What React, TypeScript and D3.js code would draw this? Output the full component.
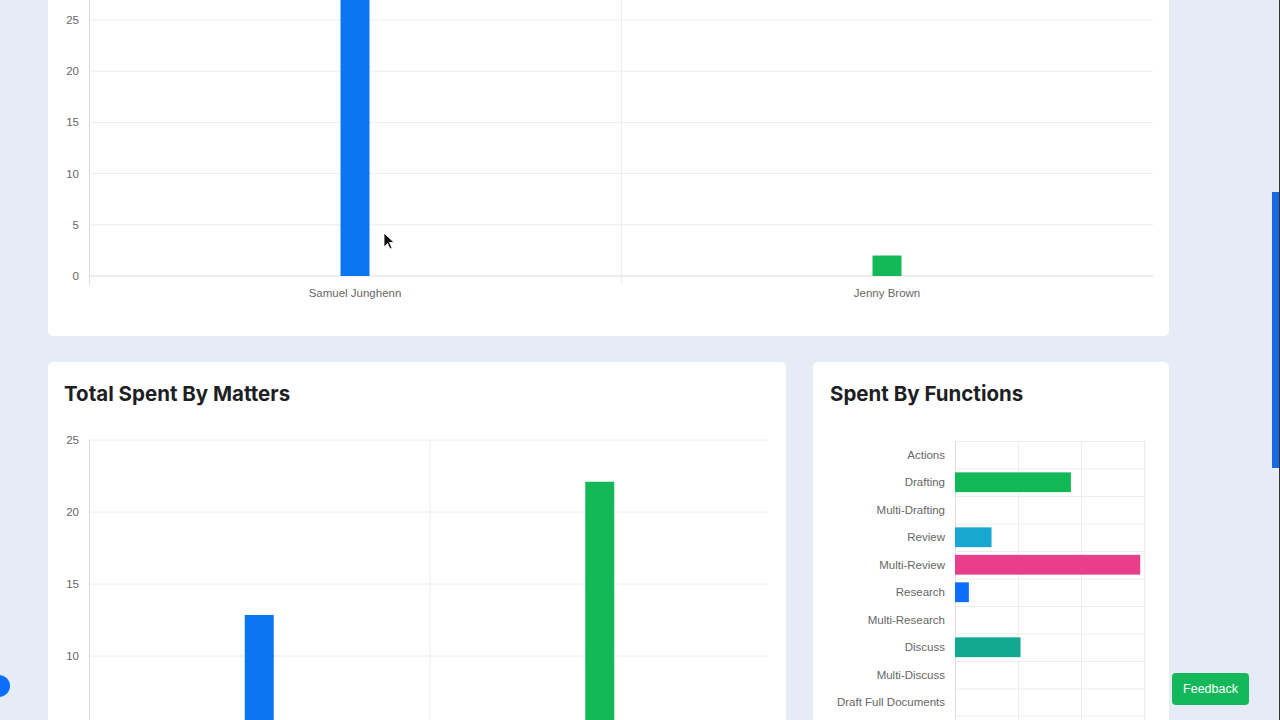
import React from "react";
import * as d3 from "d3";

// ---- Data ----
const people = ["Samuel Junghenn", "Jenny Brown"];
const peopleValues = [33, 2];
const peopleColors = ["#0b76ef", "#13b957"];
const peopleTicks = [0, 5, 10, 15, 20, 25];

const matters = ["Matter 1", "Matter 2"];
const matterValues = [12.85, 22.1];
const matterColors = ["#0b76ef", "#13b957"];
const matterTicks = [10, 15, 20, 25];

const functionsList = [
  "Actions",
  "Drafting",
  "Multi-Drafting",
  "Review",
  "Multi-Review",
  "Research",
  "Multi-Research",
  "Discuss",
  "Multi-Discuss",
  "Draft Full Documents",
];
const functionValues = [0, 9.2, 0, 2.9, 14.7, 1.1, 0, 5.2, 0, 0];
const functionColors = [
  "#6f42c1",
  "#13b957",
  "#fd7e14",
  "#17a7cf",
  "#e83e8c",
  "#0d6efd",
  "#6610f2",
  "#13a991",
  "#ffc107",
  "#dc3545",
];
const functionTicks = [0, 5, 10, 15];

const FONT = "'Liberation Sans', Arial, Helvetica, sans-serif";
const TITLE_FONT = "Inter, 'Open Sans', sans-serif";
const GRID = "#ececec";
const AXIS = "#dcdcdc";
const TICK_TEXT = "#666";

function TopChart() {
  const x = d3.scaleBand<string>().domain(people).range([89, 1153]);
  const y = d3.scaleLinear().domain([0, 25]).range([276, 20]);
  const barW = 29;
  const bounds = people.map((p) => x(p) as number);
  return (
    <g>
      {peopleTicks.map((t) => (
        <g key={t}>
          <line x1={89} x2={1153} y1={y(t)} y2={y(t)} stroke={t === 0 ? AXIS : GRID} strokeWidth={1} />
          <text x={79} y={y(t)} dy="0.35em" textAnchor="end" fontSize={11.5} fill={TICK_TEXT} fontFamily={FONT}>
            {t}
          </text>
        </g>
      ))}
      {bounds.map((b, i) => (
        <line key={i} x1={b + 0.5} x2={b + 0.5} y1={-10} y2={285} stroke={i === 0 ? AXIS : GRID} strokeWidth={1} />
      ))}
      {people.map((p, i) => {
        const cx = (x(p) as number) + x.bandwidth() / 2;
        return (
          <g key={p}>
            <rect x={cx - barW / 2} y={y(peopleValues[i])} width={barW} height={y(0) - y(peopleValues[i])} fill={peopleColors[i]} />
            <text x={cx} y={293} dy="0.35em" textAnchor="middle" fontSize={11.5} fill={TICK_TEXT} fontFamily={FONT}>
              {p}
            </text>
          </g>
        );
      })}
    </g>
  );
}

function MattersChart() {
  const x = d3.scaleBand<string>().domain(matters).range([89, 770]);
  const y = d3.scaleLinear().domain([0, 25]).range([800, 440]);
  const barW = 29;
  return (
    <g>
      <text x={64} y={394} dy="0.35em" fontSize={20.5} fontWeight={700} fill="#1d1f24" fontFamily={TITLE_FONT}>
        Total Spent By Matters
      </text>
      {matterTicks.map((t) => (
        <g key={t}>
          <line x1={89} x2={768} y1={y(t)} y2={y(t)} stroke={GRID} strokeWidth={1} />
          <text x={79} y={y(t)} dy="0.35em" textAnchor="end" fontSize={11.5} fill={TICK_TEXT} fontFamily={FONT}>
            {t}
          </text>
        </g>
      ))}
      {matters.map((m, i) => (
        <line key={i} x1={(x(m) as number) + 0.5} x2={(x(m) as number) + 0.5} y1={440} y2={808} stroke={i === 0 ? AXIS : GRID} strokeWidth={1} />
      ))}
      {matters.map((m, i) => {
        const cx = (x(m) as number) + x.bandwidth() / 2;
        return (
          <rect key={m} x={cx - barW / 2} y={y(matterValues[i])} width={barW} height={y(0) - y(matterValues[i])} fill={matterColors[i]} />
        );
      })}
    </g>
  );
}

function FunctionsChart() {
  const x = d3.scaleLinear().domain([0, 15]).range([955, 1144]);
  const y = d3.scaleBand<string>().domain(functionsList).range([441, 441 + 27.5 * functionsList.length]);
  const barH = y.bandwidth() * 0.72;
  return (
    <g>
      <text x={830} y={394} dy="0.35em" fontSize={20.5} fontWeight={700} fill="#1d1f24" fontFamily={TITLE_FONT}>
        Spent By Functions
      </text>
      {functionTicks.map((t) => (
        <line key={t} x1={x(t) + 0.5} x2={x(t) + 0.5} y1={441} y2={730} stroke={t === 0 ? AXIS : GRID} strokeWidth={1} />
      ))}
      {functionsList.map((f) => (
        <line key={f} x1={955} x2={1144} y1={(y(f) as number) + 0.5} y2={(y(f) as number) + 0.5} stroke={GRID} strokeWidth={1} />
      ))}
      <line x1={955} x2={1144} y1={441 + 27.5 * functionsList.length} y2={441 + 27.5 * functionsList.length} stroke={GRID} />
      {functionsList.map((f, i) => {
        const cy = (y(f) as number) + y.bandwidth() / 2;
        return (
          <g key={f}>
            {functionValues[i] > 0 && (
              <rect x={x(0)} y={cy - barH / 2} width={x(functionValues[i]) - x(0)} height={barH} fill={functionColors[i]} />
            )}
            <text x={945} y={cy} dy="0.35em" textAnchor="end" fontSize={11.5} fill={TICK_TEXT} fontFamily={FONT}>
              {f}
            </text>
          </g>
        );
      })}
    </g>
  );
}

export default function App() {
  return (
    <svg width={1280} height={720} style={{ position: "absolute", left: 0, top: 0 }} viewBox="0 0 1280 720">
      <rect x={0} y={0} width={1280} height={720} fill="#e5ecf6" />
      {/* cards */}
      <rect x={48} y={-20} width={1121} height={356} rx={5} fill="#fff" />
      <rect x={48} y={362} width={738} height={400} rx={5} fill="#fff" />
      <rect x={813} y={362} width={356} height={400} rx={5} fill="#fff" />
      <TopChart />
      <MattersChart />
      <FunctionsChart />
      {/* mouse cursor */}
      <path d="M384,233 L384,247 L387.5,243.5 L390,249 L392,248 L389.5,242.5 L394,242.5 Z" fill="#111" stroke="#fff" strokeWidth={0.8} />
      {/* scrollbar */}
      <rect x={1272} y={192} width={7} height={276} fill="#1769e0" />
      <rect x={1279} y={0} width={1} height={720} fill="#333" />
      {/* left floating button */}
      <circle cx={-1} cy={686} r={11} fill="#0d6efd" />
      {/* feedback button */}
      <rect x={1172} y={673} width={77} height={32} rx={4} fill="#14b85a" />
      <text x={1210.5} y={689} dy="0.35em" textAnchor="middle" fontSize={12.5} fill="#fff" fontFamily={FONT}>
        Feedback
      </text>
    </svg>
  );
}
